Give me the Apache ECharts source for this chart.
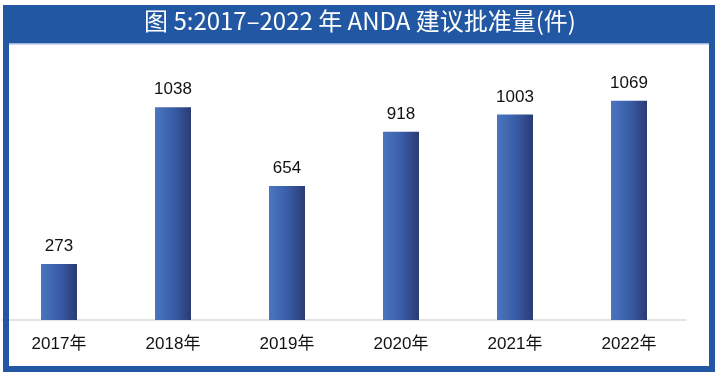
<!DOCTYPE html>
<html>
<head>
<meta charset="utf-8">
<script src="https://cdn.jsdelivr.net/npm/echarts@6/dist/echarts.min.js"></script>
<style>
  html, body { margin: 0; padding: 0; background: #fff; }
  #main { width: 720px; height: 375px; }
</style>
</head>
<body>
<div id="main"></div>
<script>
// 年份与批准量
const years = ['2017年', '2018年', '2019年', '2020年', '2021年', '2022年'];
const approvals = [273, 1038, 654, 918, 1003, 1069];
const titleText = '图 5:2017–2022 年 ANDA 建议批准量(件)';

const frameBlue = '#2157a3';

let chart = echarts.init(document.getElementById('main'));

let barColor = new echarts.graphic.LinearGradient(0, 0, 1, 0, [
    { offset: 0, color: '#4a76bf' },
    { offset: 0.5, color: '#3a5ea8' },
    { offset: 1, color: '#2a3b74' }
]);

let option = {
    animation: false,
    grid: { left: 2, right: 34, top: 74, bottom: 55 },
    xAxis: {
        type: 'category',
        data: years,
        axisTick: { show: false },
        axisLine: { lineStyle: { color: '#dcdcdc', width: 1.5 } },
        axisLabel: {
            color: '#111',
            fontSize: 17,
            margin: 16,
            fontFamily: 'Liberation Sans, Noto Sans CJK SC, sans-serif'
        }
    },
    yAxis: {
        type: 'value',
        min: 0,
        max: 1200,
        show: false
    },
    series: [{
        type: 'bar',
        data: approvals,
        barWidth: 36,
        itemStyle: { color: barColor },
        label: {
            show: true,
            position: 'top',
            distance: 9,
            color: '#111',
            fontSize: 17,
            fontFamily: 'Liberation Sans, sans-serif'
        }
    }],
    graphic: [
        {
            type: 'rect',
            z: 10,
            shape: { x: 6, y: 8, width: 706, height: 361 },
            style: { fill: 'none', stroke: frameBlue, lineWidth: 6 }
        },
        {
            type: 'rect',
            z: 11,
            shape: { x: 3, y: 5, width: 712, height: 38 },
            style: { fill: frameBlue }
        },
        {
            type: 'rect',
            z: 11,
            shape: { x: 9, y: 43, width: 700, height: 1.5 },
            style: { fill: '#9bb7de' }
        },
        {
            type: 'text',
            z: 12,
            left: 'center',
            top: 9,
            style: {
                text: titleText,
                fill: '#fff',
                font: '24px "Noto Sans CJK SC", sans-serif'
            }
        }
    ]
};
chart.setOption(option);
</script>
</body>
</html>
